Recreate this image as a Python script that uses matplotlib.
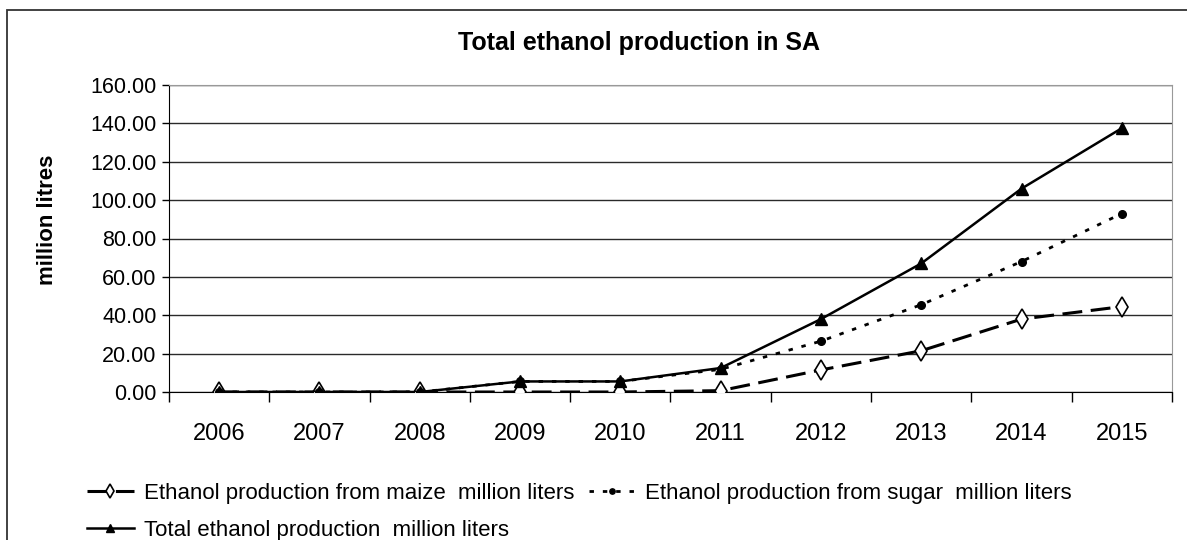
import matplotlib
matplotlib.use("Agg")
import matplotlib.pyplot as plt
from matplotlib.patches import Rectangle
import numpy as np

plt.rcParams.update({"font.family": ["Liberation Sans", "DejaVu Sans"]})

# data (million litres)
years = ["2006", "2007", "2008", "2009", "2010", "2011", "2012", "2013", "2014", "2015"]
maize = [0.0, 0.0, 0.0, 0.0, 0.0, 0.7, 11.5, 21.5, 38.0, 44.5]
sugar = [0.0, 0.0, 0.0, 5.5, 5.5, 11.8, 26.5, 45.5, 68.0, 93.0]
total = [0.0, 0.0, 0.0, 5.5, 5.5, 12.5, 38.0, 67.0, 106.0, 137.5]
yticks = [0, 20, 40, 60, 80, 100, 120, 140, 160]

W, H = 1187, 540
fig = plt.figure(figsize=(W / 100, H / 100), dpi=100)
ax = fig.add_axes([169 / W, 1 - 392 / H, (1172 - 169) / W, (392 - 85) / H])

# outer chart border (cut off at right/bottom like the source)
fig.patches.append(Rectangle((7 / W, -0.1), 1.2, 1 - 10 / H + 0.1,
                             transform=fig.transFigure, fill=False,
                             edgecolor="#333333", lw=1.3))

x = np.arange(len(years))

l_maize, = ax.plot(x, maize, color="black", lw=2.2, dashes=(6.5, 2.8),
                   marker="d", ms=10.5, mfc="white", mec="black", mew=1.2,
                   label="Ethanol production from maize  million liters", zorder=3)
l_sugar, = ax.plot(x, sugar, color="black", lw=2.0, dashes=(1.6, 3.2),
                   marker="o", ms=5.5, mfc="black", mec="black",
                   label="Ethanol production from sugar  million liters", zorder=4)
l_total, = ax.plot(x, total, color="black", lw=1.8, ls="-",
                   marker="^", ms=9, mfc="black", mec="black",
                   label="Total ethanol production  million liters", zorder=5)

ax.set_xlim(-0.5, len(years) - 0.5)
ax.set_ylim(0, 160)
ax.set_yticks(yticks)
ax.set_yticklabels([f"{v:.2f}" for v in yticks], fontsize=15.5)
ax.set_xticks(x)
ax.set_xticklabels(years, fontsize=17)
ax.set_xticks(np.arange(-0.5, len(years), 1), minor=True)
ax.tick_params(axis="x", which="major", length=0, pad=22)
ax.tick_params(axis="x", which="minor", length=7, width=1, direction="out")
ax.tick_params(axis="y", length=5, width=1, direction="out", pad=4)

ax.grid(axis="y", color="#2a2a2a", lw=1.0)
ax.set_axisbelow(True)
for s in ("top", "right"):
    ax.spines[s].set_color("#999999")
for s in ("left", "bottom"):
    ax.spines[s].set_color("black")

ax.set_ylabel("million litres", fontsize=16, fontweight="bold")
ax.yaxis.set_label_coords((58 - 169) / (1172 - 169), (392 - 220) / (392 - 85))

fig.text(639 / W, 1 - 43 / H, "Total ethanol production in SA",
         ha="center", va="center", fontsize=18, fontweight="bold")

# legend: two entries on the first row, total on the second
fig.legend(handles=[l_maize, l_total, l_sugar], ncol=2,
           loc="upper left", bbox_to_anchor=(76 / W, 1 - 472 / H),
           frameon=False, fontsize=16, handlelength=2.1, handletextpad=0.45,
           columnspacing=0.65, labelspacing=0.7, borderpad=0,
           markerscale=0.7)

fig.savefig("out.png", dpi=100)
